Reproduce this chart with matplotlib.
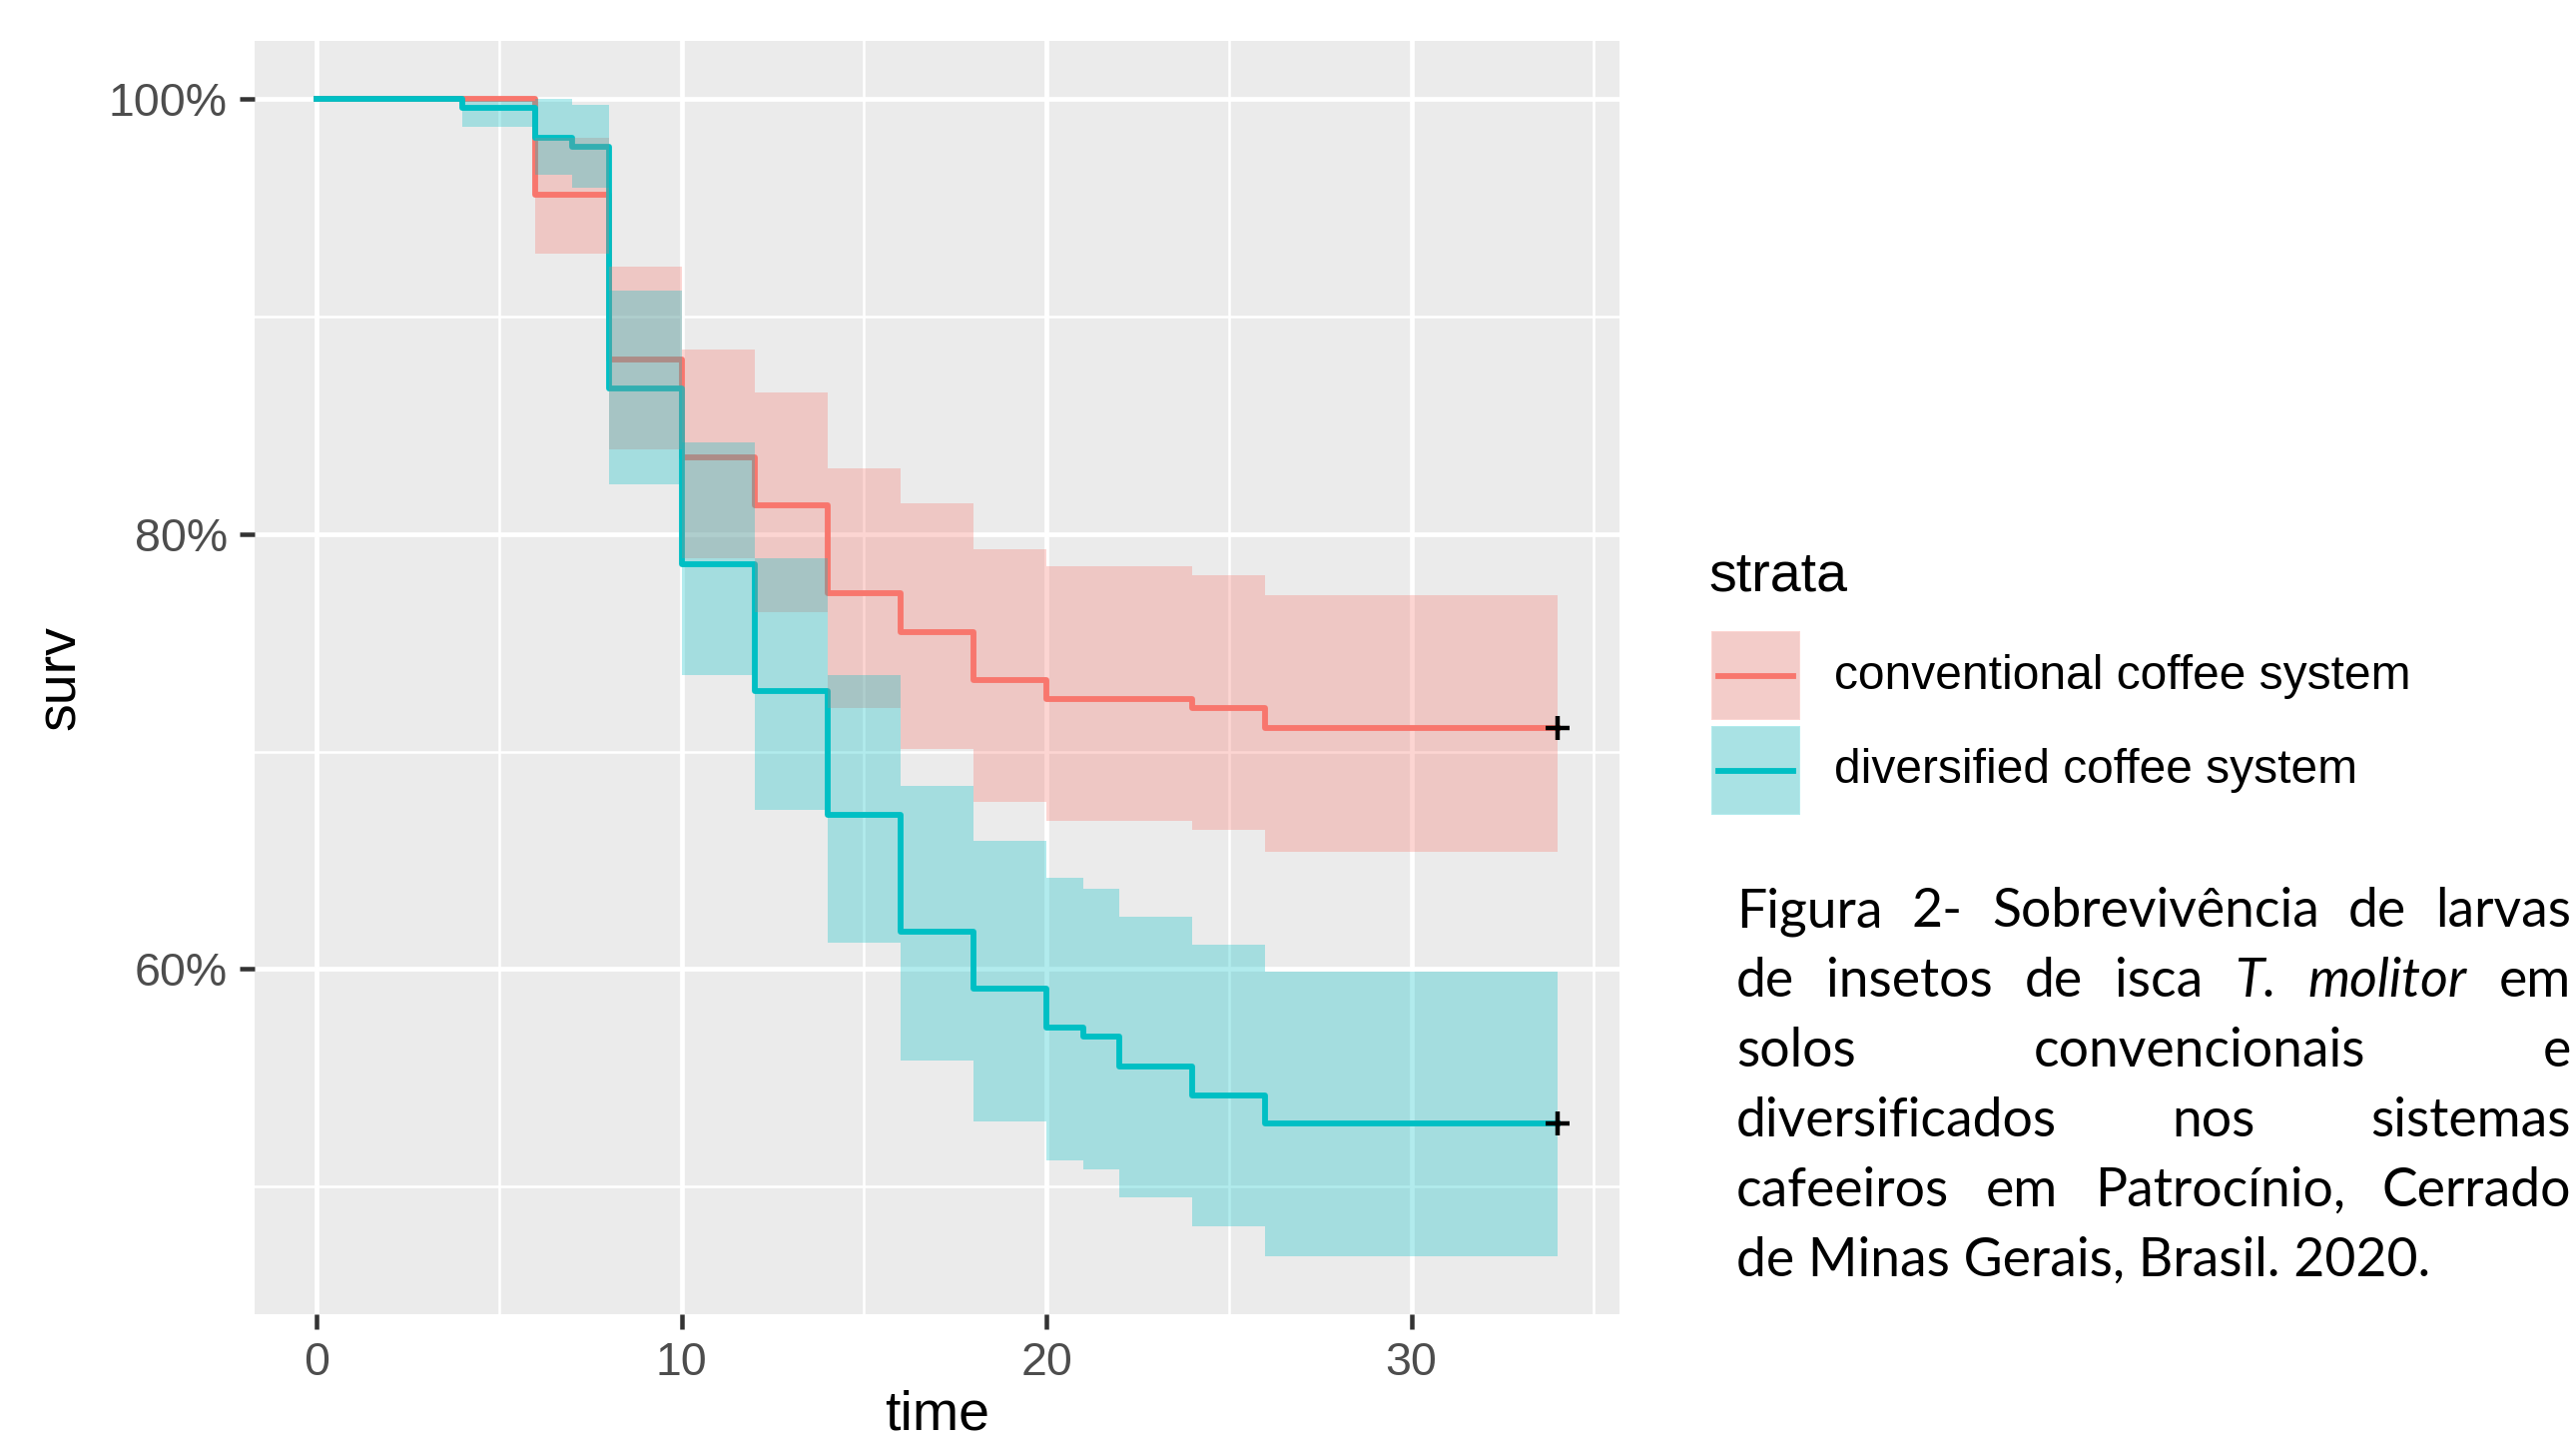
#!/usr/bin/env python3
"""Kaplan-Meier survival of T. molitor larvae in conventional vs diversified coffee soils."""

import matplotlib

matplotlib.use("Agg")
import matplotlib.pyplot as plt
from matplotlib.lines import Line2D
from matplotlib.patches import Rectangle
from matplotlib.ticker import MultipleLocator, PercentFormatter

# conventional coffee system (step curve, 95% band)
CONV_TIME = [0, 6, 8, 10, 12, 14, 16, 18, 20, 24, 26, 34]
CONV_SURV = [100, 95.6, 88.0, 83.5, 81.3, 77.3, 75.5, 73.3, 72.4, 72.0, 71.1, 71.1]
CONV_UPPER = [100, 98.2, 92.3, 88.5, 86.5, 83.0, 81.4, 79.3, 78.5, 78.1, 77.2, 77.2]
CONV_LOWER = [100, 92.9, 83.9, 78.9, 76.4, 72.0, 70.1, 67.7, 66.8, 66.4, 65.4, 65.4]

# diversified coffee system
DIV_TIME = [0, 4, 6, 7, 8, 10, 12, 14, 16, 18, 20, 21, 22, 24, 26, 34]
DIV_SURV = [100, 99.6, 98.2, 97.8, 86.7, 78.6, 72.8, 67.1, 61.7, 59.1, 57.3, 56.9, 55.5, 54.2, 52.9, 52.9]
DIV_UPPER = [100, 99.9, 100, 99.7, 91.2, 84.2, 78.9, 73.5, 68.4, 65.9, 64.2, 63.7, 62.4, 61.1, 59.9, 59.9]
DIV_LOWER = [100, 98.7, 96.5, 95.9, 82.3, 73.5, 67.3, 61.2, 55.8, 53.0, 51.2, 50.8, 49.5, 48.2, 46.8, 46.8]

CENSOR_TIME = 34
STRATA = ["conventional coffee system", "diversified coffee system"]
X_TICKS = [0, 10, 20, 30]
Y_TICKS = [60, 80, 100]

CAPTION = [
    [("Figura", "normal"), ("2-", "normal"), ("Sobrevivência", "normal"), ("de", "normal"), ("larvas", "normal")],
    [("de", "normal"), ("insetos", "normal"), ("de", "normal"), ("isca", "normal"),
     ("T.", "italic"), ("molitor", "italic"), ("em", "normal")],
    [("solos", "normal"), ("convencionais", "normal"), ("e", "normal")],
    [("diversificados", "normal"), ("nos", "normal"), ("sistemas", "normal")],
    [("cafeeiros", "normal"), ("em", "normal"), ("Patrocínio,", "normal"), ("Cerrado", "normal")],
    [("de", "normal"), ("Minas", "normal"), ("Gerais,", "normal"), ("Brasil.", "normal"), ("2020.", "normal")],
]

RED = "#F8766D"
TEAL = "#00BFC4"
LINE_W = 4.2
W, H, DPI = 2580, 1446, 100


def px(v):
    return v * 72.0 / DPI


def fx(x):
    return x / W


def fy(y):
    return 1 - y / H


def draw_legend(fig):
    fig.text(fx(1711), fy(592), "strata", fontsize=40, va="baseline")
    tops = [632, 727]
    for color, label, top in zip((RED, TEAL), STRATA, tops):
        box = (fx(1714), fy(top + 89)), 89 / W, 89 / H
        fig.add_artist(Rectangle(*box, facecolor="#F2F2F2", edgecolor="white", lw=1.5))
        fig.add_artist(Rectangle(*box, facecolor=color, alpha=0.3, lw=0))
        mid = fy(top + 45)
        fig.add_artist(Line2D([fx(1721), fx(1796)], [mid, mid], color=color, lw=LINE_W))
        fig.text(fx(1837), mid, label, fontsize=34.5, va="center")


def draw_caption(fig):
    renderer = fig.canvas.get_renderer()
    left, right = 1739, 2575
    baselines = [928, 998, 1068, 1138, 1208, 1278]
    family = ["Lato", "DejaVu Sans"]

    probe = fig.text(0, 0, " ".join(w for w, _ in CAPTION[-1]), fontsize=36, family=family)
    natural = probe.get_window_extent(renderer).width
    probe.remove()
    size = 36 * 696 / natural

    for line, base in zip(CAPTION, baselines):
        y = fy(base)
        if line is CAPTION[-1]:
            fig.text(fx(left), y, " ".join(w for w, _ in line), fontsize=size, family=family, va="baseline")
            continue
        texts = [fig.text(0, y, w, fontsize=size, family=family, style=s, va="baseline") for w, s in line]
        widths = [t.get_window_extent(renderer).width for t in texts]
        gap = (right - left - sum(widths)) / (len(texts) - 1)
        x = left
        for t, w in zip(texts, widths):
            t.set_x(fx(x))
            x += w + gap


def main():
    plt.rcParams["font.family"] = ["Liberation Sans", "DejaVu Sans"]
    fig = plt.figure(figsize=(W / DPI, H / DPI), dpi=DPI)
    ax = fig.add_axes([fx(255), fy(1316), (1622 - 255) / W, (1316 - 41) / H])
    ax.set_facecolor("#EBEBEB")
    for sp in ax.spines.values():
        sp.set_visible(False)

    # lines first, ribbons on top (survminer order)
    ax.step(CONV_TIME, CONV_SURV, where="post", color=RED, lw=LINE_W, zorder=2)
    ax.step(DIV_TIME, DIV_SURV, where="post", color=TEAL, lw=LINE_W, zorder=2)
    ax.fill_between(CONV_TIME, CONV_LOWER, CONV_UPPER, step="post", color=RED, alpha=0.3, lw=0, zorder=3)
    ax.fill_between(DIV_TIME, DIV_LOWER, DIV_UPPER, step="post", color=TEAL, alpha=0.3, lw=0, zorder=3)
    ax.plot([CENSOR_TIME, CENSOR_TIME], [CONV_SURV[-1], DIV_SURV[-1]], ls="none", marker="+",
            ms=17, mew=3.2, color="black", zorder=4)

    lo = min(min(CONV_LOWER), min(DIV_LOWER))
    hi = max(max(CONV_UPPER), max(DIV_UPPER))
    ax.set_ylim(lo - 0.05 * (hi - lo), hi + 0.05 * (hi - lo))
    xmax = max(CONV_TIME[-1], DIV_TIME[-1])
    ax.set_xlim(-0.05 * xmax, 1.05 * xmax)

    ax.set_xticks(X_TICKS)
    ax.set_yticks(Y_TICKS)
    ax.xaxis.set_minor_locator(MultipleLocator(5))
    ax.yaxis.set_minor_locator(MultipleLocator(10))
    ax.yaxis.set_major_formatter(PercentFormatter(xmax=100, decimals=0))
    ax.grid(which="major", color="white", lw=3.4, zorder=0)
    ax.grid(which="minor", color="white", lw=1.8, zorder=0)
    ax.set_axisbelow(True)
    ax.tick_params(which="major", length=px(15), width=px(4.5), color="#333333",
                   labelsize=33.5, labelcolor="#4D4D4D", pad=px(12))
    ax.tick_params(which="minor", length=0)

    ax.set_xlabel("time", fontsize=40)
    ax.xaxis.label.set_va("baseline")
    ax.xaxis.set_label_coords(0.5, (1316 - 1432) / (1316 - 41))
    ax.set_ylabel("surv", fontsize=40)
    ax.yaxis.label.set_va("center")
    ax.yaxis.set_label_coords((61 - 255) / (1622 - 255), 0.5)

    draw_legend(fig)
    draw_caption(fig)
    fig.savefig("out.png", dpi=DPI, facecolor="white")
    plt.close(fig)


if __name__ == "__main__":
    main()
